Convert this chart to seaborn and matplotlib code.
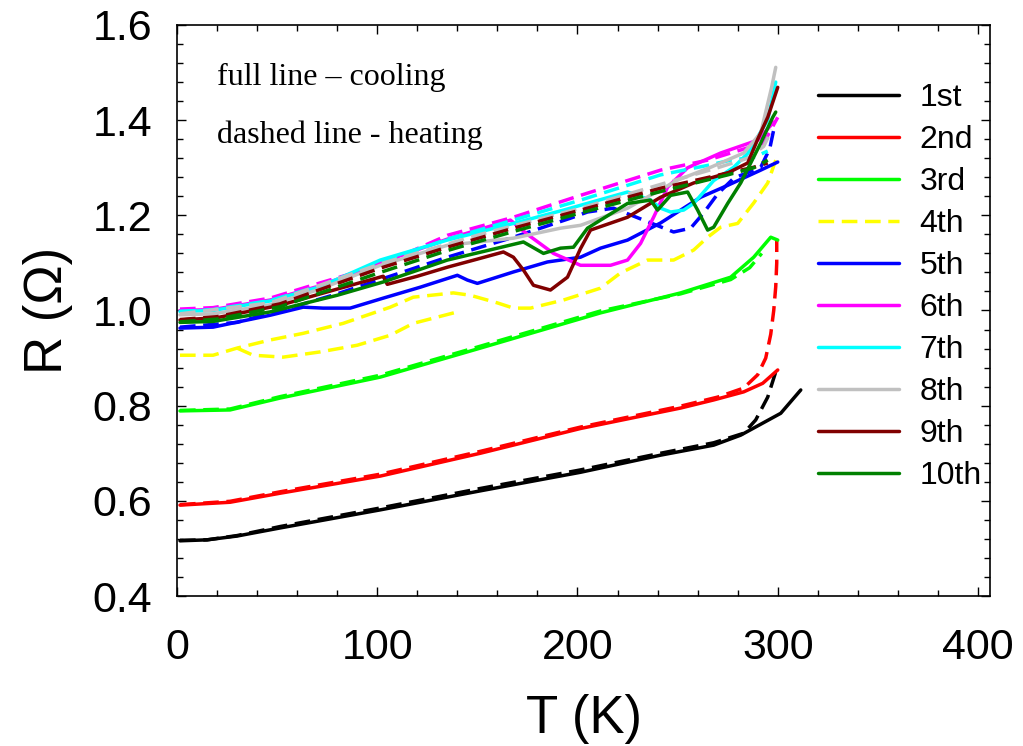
# R(T) curves, 10 thermal cycles: full line = cooling, dashed = heating
import numpy as np
import matplotlib
matplotlib.use("Agg")
import matplotlib.pyplot as plt
import seaborn as sns
from matplotlib.ticker import MultipleLocator

# =========================================
# DATA
# =========================================

# 1st - black
t_1c = [311.5, 301.5, 281.5, 268, 241.5, 201.5, 151.5, 101.5, 51.5, 30, 15, 1.5]
r_1c = [0.833, 0.784, 0.738, 0.717, 0.696, 0.660, 0.621, 0.581, 0.543, 0.526, 0.518, 0.516]
t_1h = [1.5, 15, 30, 51.5, 101.5, 151.5, 201.5, 241.5, 268, 283, 289, 295, 299]
r_1h = [0.517, 0.518, 0.527, 0.546, 0.585, 0.626, 0.665, 0.700, 0.722, 0.742, 0.770, 0.818, 0.871]

# 2nd - red
t_2c = [300, 292.5, 283, 268, 251.5, 201.5, 151.5, 101.5, 51.5, 26.5, 1.5]
r_2c = [0.875, 0.847, 0.829, 0.812, 0.795, 0.752, 0.700, 0.652, 0.616, 0.597, 0.591]
t_2h = [1.5, 26.5, 51.5, 101.5, 151.5, 201.5, 251.5, 270, 283, 290, 294, 296.5, 298, 299, 299.5, 299.5]
r_2h = [0.592, 0.599, 0.619, 0.656, 0.704, 0.755, 0.799, 0.818, 0.837, 0.865, 0.900, 0.950, 1.000, 1.050, 1.100, 1.150]

# 3rd - lime
t_3c = [300, 296.5, 288, 276.5, 251.5, 211.5, 151.5, 101.5, 51.5, 26.5, 1.5]
r_3c = [1.148, 1.154, 1.112, 1.070, 1.037, 0.995, 0.921, 0.860, 0.816, 0.791, 0.789]
t_3h = [1.5, 26.5, 51.5, 101.5, 151.5, 211.5, 251.5, 276.5, 286, 292]
r_3h = [0.790, 0.793, 0.819, 0.864, 0.925, 0.999, 1.035, 1.065, 1.090, 1.120]

# 4th - yellow (both dashed)
t_4a = [1.5, 18, 30, 46.5, 63, 83, 106.5, 118, 138, 146.5, 160, 168, 176.5, 193, 211.5,
        221.5, 235, 248, 258, 265, 271.5, 280, 288, 295, 299]
r_4a = [0.906, 0.906, 0.921, 0.938, 0.952, 0.973, 1.007, 1.028, 1.037, 1.032, 1.016, 1.005, 1.005, 1.022, 1.047,
        1.079, 1.106, 1.106, 1.127, 1.154, 1.175, 1.183, 1.226, 1.268, 1.316]
t_4b = [30, 38, 53, 71.5, 90, 106.5, 118, 140]
r_4b = [0.921, 0.906, 0.902, 0.913, 0.927, 0.948, 0.973, 0.997]

# 5th - blue
t_5c = [300, 291.5, 275, 261.5, 251.5, 241.5, 225, 211.5, 201.5, 185, 168, 150, 145, 140,
        121.5, 103, 86.5, 73, 63, 46.5, 18, 1.5]
r_5c = [1.312, 1.295, 1.263, 1.238, 1.211, 1.184, 1.148, 1.131, 1.112, 1.102, 1.081, 1.057, 1.064, 1.074,
        1.049, 1.026, 1.005, 1.005, 1.007, 0.990, 0.965, 0.963]
t_5h = [1.5, 30, 60, 80, 105, 135, 168, 196.5, 205, 218, 233, 248, 256.5, 263, 270, 278, 291.5, 296, 298.5]
r_5h = [0.965, 0.975, 1.010, 1.035, 1.070, 1.112, 1.154, 1.194, 1.207, 1.215, 1.190, 1.165, 1.173, 1.205,
        1.245, 1.278, 1.301, 1.340, 1.390]

# 6th - magenta
t_6c = [298, 290, 271.5, 255, 245, 238, 231.5, 225, 216.5, 201.5, 188, 175, 166.5, 135, 101.5, 71.5, 46.5, 18, 1.5]
r_6c = [1.396, 1.358, 1.331, 1.300, 1.259, 1.196, 1.141, 1.106, 1.095, 1.095, 1.120, 1.160, 1.190, 1.150, 1.100,
        1.052, 1.022, 1.002, 1.000]
t_6h = [1.5, 18, 46.5, 71.5, 90, 105, 135, 168, 201.5, 241.5, 265, 276.5, 293, 300]
r_6h = [1.003, 1.006, 1.026, 1.058, 1.081, 1.102, 1.158, 1.196, 1.242, 1.295, 1.316, 1.331, 1.352, 1.406]

# 7th - cyan
t_7c = [299, 295, 285, 278, 268, 263, 258, 253, 246.5, 241.5, 236.5, 230, 225, 193, 168, 135, 101.5,
        71.5, 46.5, 18, 1.5]
r_7c = [1.480, 1.400, 1.330, 1.301, 1.273, 1.249, 1.225, 1.211, 1.207, 1.215, 1.232, 1.242, 1.249, 1.211,
        1.183, 1.148, 1.106, 1.050, 1.020, 1.000, 0.998]
t_7h = [1.5, 18, 46.5, 71.5, 101.5, 135, 168, 201.5, 241.5, 265, 276.5, 288, 295]
r_7h = [0.998, 1.002, 1.021, 1.052, 1.100, 1.150, 1.190, 1.232, 1.285, 1.305, 1.316, 1.322, 1.335]

# 8th - silver
t_8c = [299, 297, 291.5, 283, 266.5, 250, 225, 201.5, 191.5, 168, 135, 101.5, 71.5, 46.5, 18, 1.5]
r_8c = [1.511, 1.470, 1.373, 1.331, 1.301, 1.274, 1.215, 1.179, 1.173, 1.152, 1.137, 1.095, 1.045, 1.012,
        0.993, 0.991]
t_8h = [1.5, 46.5, 101.5, 151.5, 201.5, 241.5, 270, 285, 293, 297]
r_8h = [0.993, 1.016, 1.098, 1.160, 1.215, 1.265, 1.300, 1.320, 1.345, 1.380]

# 9th - maroon
t_9c = [300, 295, 290, 285, 275, 258, 241.5, 225, 206.5, 201.5, 195, 186.5, 178, 173, 168, 163,
        150, 135, 120, 105, 103, 80, 51.5, 20, 1.5]
r_9c = [1.469, 1.406, 1.360, 1.310, 1.289, 1.268, 1.238, 1.196, 1.169, 1.130, 1.070, 1.043, 1.053, 1.085,
        1.112, 1.123, 1.108, 1.091, 1.072, 1.055, 1.072, 1.045, 1.011, 0.985, 0.980]
t_9h = [1.5, 20, 51.5, 101.5, 135, 168, 201.5, 241.5, 275, 288, 295]
r_9h = [0.981, 0.987, 1.014, 1.089, 1.133, 1.173, 1.211, 1.257, 1.289, 1.301, 1.310]

# 10th - green
t_10c = [299, 297.5, 291.5, 281.5, 275, 268, 265, 260, 255, 246.5, 240, 236.5, 225, 211.5, 205,
         198, 191.5, 183, 173, 135, 103, 80, 46.5, 18, 1.5]
r_10c = [1.417, 1.406, 1.352, 1.268, 1.225, 1.175, 1.169, 1.211, 1.249, 1.242, 1.211, 1.232, 1.225, 1.190,
         1.173, 1.133, 1.131, 1.120, 1.144, 1.106, 1.060, 1.032, 0.997, 0.977, 0.975]
t_10h = [1.5, 20, 51.5, 101.5, 135, 168, 201.5, 241.5, 275, 288, 295]
r_10h = [0.976, 0.982, 1.008, 1.080, 1.126, 1.166, 1.205, 1.250, 1.285, 1.300, 1.316]

cycle_labels = ["1st", "2nd", "3rd", "4th", "5th", "6th", "7th", "8th", "9th", "10th"]
cycle_colors = ["black", "#ff0000", "#00ff00", "#ffff00", "#0000ff",
                "#ff00ff", "#00ffff", "#c0c0c0", "#800000", "#008000"]

cooling = [(t_1c, r_1c), (t_2c, r_2c), (t_3c, r_3c), (t_4a, r_4a), (t_5c, r_5c),
           (t_6c, r_6c), (t_7c, r_7c), (t_8c, r_8c), (t_9c, r_9c), (t_10c, r_10c)]
heating = [(t_1h, r_1h), (t_2h, r_2h), (t_3h, r_3h), (t_4b, r_4b), (t_5h, r_5h),
           (t_6h, r_6h), (t_7h, r_7h), (t_8h, r_8h), (t_9h, r_9h), (t_10h, r_10h)]

# =========================================
# STYLE
# =========================================

sns.set_style("ticks")
plt.rcParams["font.family"] = ["Liberation Sans", "DejaVu Sans"]
plt.rcParams.update({
    "text.color": "black",
    "axes.labelcolor": "black",
    "xtick.color": "black",
    "ytick.color": "black",
})

LW = 2.5
DASH = (0, (4.5, 2.2))

fig = plt.figure(figsize=(10.23, 7.46), dpi=100)
ax = fig.add_axes([177 / 1023, 150 / 746, 813 / 1023, 571 / 746])

# =========================================
# CURVES
# =========================================

for i, (lab, col) in enumerate(zip(cycle_labels, cycle_colors)):
    tc, rc = cooling[i]
    th, rh = heating[i]
    ls_c = DASH if lab == "4th" else "-"
    sns.lineplot(x=th, y=rh, ax=ax, color=col, lw=LW, linestyle=DASH,
                 sort=False, estimator=None, label="_nolegend_")
    sns.lineplot(x=tc, y=rc, ax=ax, color=col, lw=LW, linestyle=ls_c,
                 sort=False, estimator=None, label=lab)

# =========================================
# AXES
# =========================================

ax.set_xlim(0, 406)
ax.set_ylim(0.4, 1.6)
ax.xaxis.set_major_locator(MultipleLocator(100))
ax.xaxis.set_minor_locator(MultipleLocator(20))
ax.yaxis.set_major_locator(MultipleLocator(0.2))
ax.yaxis.set_minor_locator(MultipleLocator(0.04))
ax.yaxis.set_major_formatter(plt.FuncFormatter(lambda v, p: f"{v:.1f}"))

ax.tick_params(which="both", direction="in", top=True, right=True, width=1.0, color="black")
ax.tick_params(which="major", length=6.5)
ax.tick_params(which="minor", length=4)
ax.tick_params(axis="x", which="major", labelsize=31, pad=23)
ax.tick_params(axis="y", which="major", labelsize=31, pad=18)
for sp in ax.spines.values():
    sp.set_linewidth(1.2)
    sp.set_color("black")

ax.set_xlabel("T (K)", fontsize=38, labelpad=19)
ax.set_ylabel("R (\u03a9)", fontsize=38, labelpad=14)

ax.text(0.049, 0.895, "full line \u2013 cooling", transform=ax.transAxes,
        fontsize=23, family=["Liberation Serif", "DejaVu Serif"], va="baseline")
ax.text(0.049, 0.793, "dashed line - heating", transform=ax.transAxes,
        fontsize=23, family=["Liberation Serif", "DejaVu Serif"], va="baseline")

leg = ax.legend(loc="upper left", bbox_to_anchor=(0.788, 0.898), frameon=False,
                fontsize=23, handlelength=2.56, handletextpad=0.63, labelspacing=0.375,
                borderpad=0, borderaxespad=0)
for h in leg.get_lines():
    h.set_linewidth(LW)

fig.savefig("out.png", dpi=100)
